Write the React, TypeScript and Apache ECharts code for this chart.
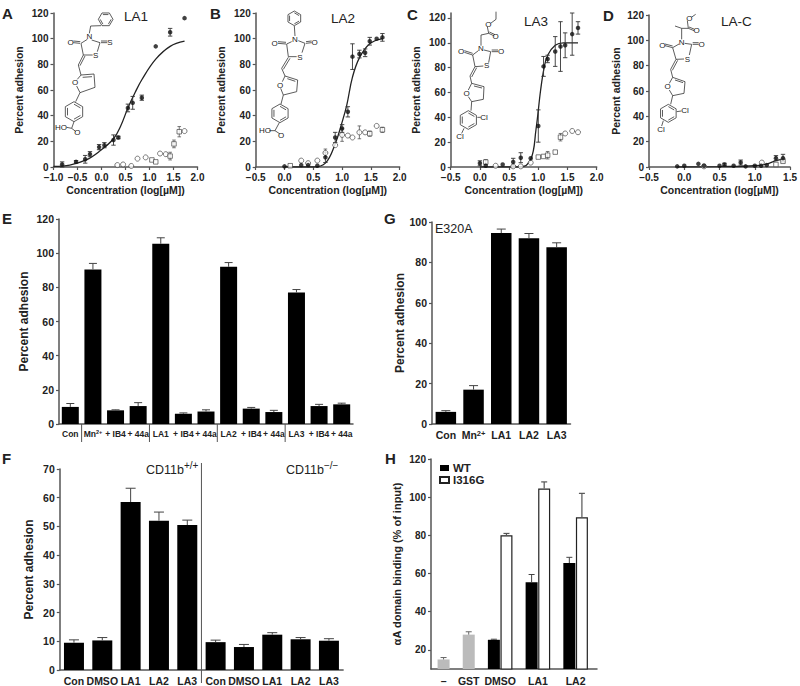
import React, { useEffect, useRef } from "react";
import * as echarts from "echarts";

// ---------- data: [x, y, error] ----------
const aFilled = [[-0.82,2,2],[-0.53,4,1],[-0.34,6,3],[-0.24,10,2],[-0.05,15.5,2],[0.06,17,2],[0.25,21,4],[0.35,23,1],[0.55,46,3],[0.65,50,5],[0.84,54,2],[1.13,94,0],[1.43,105,3],[1.73,116,0]];
const aOpenC = [[0.33,1.5,0],[0.45,2,0],[0.62,0.8,0],[0.75,6.5,0],[0.92,7.5,0],[1.22,10.5,0],[1.34,10,0],[1.73,28,0]];
const aOpenS = [[1.05,5.5,0],[1.13,4,0],[1.43,8.5,3],[1.51,18,3],[1.62,27.5,4]];
const aCurve = [[-1,0.5],[-0.66,1.5],[-0.32,5.5],[-0.05,12],[0.25,22],[0.4,32],[0.55,46],[0.7,58],[0.84,68],[1.13,84],[1.43,94],[1.73,98]];

const bFilled = [[0,0.5,0],[0.29,1.5,0],[0.41,1.5,0],[0.57,1,0],[0.71,7.5,4],[0.88,23,4],[1,30,3],[1.1,43,4],[1.18,86,10],[1.3,88,3],[1.4,89,3],[1.48,98,3],[1.6,100,0],[1.7,101,3]];
const bOpenC = [[0.29,5,0],[0.41,3,0],[0.57,5,0],[0.71,11,3],[0.88,17,0],[1,25,5],[1.1,24.5,0],[1.18,23,0],[1.3,27,5],[1.4,27,0],[1.6,32,0]];
const bOpenS = [[0.1,1,0],[1.48,26,2],[1.7,29,2]];
const bCurve = [[0,0],[0.5,0],[0.71,3],[0.88,18],[1,35],[1.08,48],[1.18,70],[1.3,85],[1.48,96],[1.7,100]];

const cFilled = [[0,3,2],[0.1,1,0],[0.39,2,0],[0.57,4,3],[0.7,7.5,4],[0.87,7,0],[1,33,13],[1.09,81,8],[1.16,87,3],[1.29,93,12],[1.38,97,20],[1.46,98,10],[1.58,107,17],[1.68,112,5]];
const cOpenC = [[0.27,1,0],[0.57,0.5,0],[0.7,0.5,0],[0.87,3.5,0],[1.46,27,0],[1.58,29,0],[1.68,28,0]];
const cOpenS = [[0.1,4,2],[1,8,0],[1.09,8.5,0],[1.16,9.5,3],[1.29,12,0],[1.38,24,3]];
const cCurve = [[0,0],[0.69,0],[0.87,6],[0.96,30],[1.04,62],[1.1,80],[1.16,90],[1.29,98],[1.43,100],[1.68,100]];

const dFilled = [[-0.1,0.5,0],[0,1,0],[0.2,2.5,0],[0.28,1,0],[0.5,1,0],[0.57,2,1],[0.7,1,0],[0.8,3.5,2],[0.87,0.5,0],[1,1,0],[1.09,1,0],[1.17,1.5,0],[1.3,7,2],[1.4,7,3]];
const dOpenC = [[0.28,0.5,0],[1.1,3.5,0]];
const dOpenS = [[1.3,2,0],[1.4,4.5,0]];
const dCurve = [[-0.1,0],[0.5,0.3],[1,1],[1.18,2.5],[1.3,5],[1.4,6]];

const eCats = ["Con","Mn2+","+ IB4","+ 44a","LA1","+ IB4","+ 44a","LA2","+ IB4","+ 44a","LA3","+ IB4","+ 44a"];
const eVals = [10,90.5,8,10.5,105.5,6,7.3,92,9,7,77,10.5,11.5];
const eErrs = [2,3.5,0.3,2,3.5,0.5,1,2.5,0.7,1,1.7,1,0.7];

const gCats = ["Con","Mn2+","LA1","LA2","LA3"];
const gVals = [6,17,94.5,92,87.5];
const gErrs = [0.6,2,2,2.3,2.2];

const fCats = ["Con","DMSO","LA1","LA2","LA3","Con","DMSO","LA1","LA2","LA3"];
const fVals = [9.5,10.3,58.5,52,50.5,9.7,8,12.3,10.7,10.2];
const fErrs = [1,1,4.8,3,1.7,0.7,0.9,0.7,0.6,0.7];

const hLabels = ["–","GST","DMSO","LA1","LA2"];
const hLabelSlots = [1,3,5.5,8.5,11.5];
const hGrey = [[1,15,1],[3,28,1.5]];
const hWT = [[5,25.3,0.3],[8,55.5,4],[11,65.5,3]];
const hMut = [[6,80,1],[9,104.5,3.5],[12,89.5,12.5]];

const FONT = '"Liberation Sans", Arial, sans-serif';
const DARK = "#222";
const AXIS = "#555";

const grids = [
  { left: 53.5, top: 13, width: 144, height: 154 },
  { left: 255.7, top: 13, width: 144, height: 154 },
  { left: 450.7, top: 13, width: 146, height: 154 },
  { left: 649, top: 15, width: 146, height: 152 },
  { left: 59, top: 219, width: 294, height: 205 },
  { left: 432, top: 222, width: 138.5, height: 202 },
  { left: 59.8, top: 469, width: 283.3, height: 202 },
  { left: 431, top: 459, width: 166, height: 212 },
];

const axisCommon = {
  axisLine: { show: true, onZero: false, lineStyle: { color: AXIS, width: 1.5 } },
  splitLine: { show: false },
};
const tickLabel = { color: DARK, fontFamily: FONT, fontWeight: "bold" as const };

function yAxis(i: number, max: number, interval: number, name: string, gap: number, extra: any = {}) {
  return {
    type: "value", gridIndex: i, min: extra.min ?? 0, max, interval, name, nameLocation: "middle", nameGap: gap,
    nameTextStyle: { color: DARK, fontFamily: FONT, fontWeight: "bold", fontSize: extra.nameSize ?? 10.5 },
    ...axisCommon,
    axisTick: { show: true, length: 3, lineStyle: { color: AXIS, width: 1.2 }, ...(extra.ticks ? { customValues: extra.ticks } : {}) },
    axisLabel: { ...tickLabel, fontSize: extra.size ?? 10, margin: 5, ...(extra.ticks ? { customValues: extra.ticks } : {}) },
  };
}
function concAxis(i: number, min: number, max: number) {
  return {
    type: "value", gridIndex: i, min, max, interval: 0.5, name: "Concentration (log[µM])", nameLocation: "middle", nameGap: 17,
    nameTextStyle: { color: DARK, fontFamily: FONT, fontWeight: "bold", fontSize: 10.5 },
    ...axisCommon,
    axisTick: { show: true, length: 3, lineStyle: { color: AXIS, width: 1.2 } },
    axisLabel: { ...tickLabel, fontSize: 10, margin: 5, formatter: (v: number) => (v < 0 ? "−" : "") + Math.abs(v).toFixed(1) },
  };
}
const catFmt = (v: string) => (v === "Mn2+" ? "{b|Mn}{s|2+}" : v);
function catAxis(i: number, data: string[], size: number) {
  return {
    type: "category", gridIndex: i, data, ...axisCommon,
    axisTick: { show: false },
    axisLabel: {
      ...tickLabel, fontSize: size, margin: 5, interval: 0, formatter: catFmt,
      rich: {
        b: { ...tickLabel, fontSize: size, verticalAlign: "bottom" },
        s: { ...tickLabel, fontSize: size - 3, verticalAlign: "top", padding: [0, 0, 3, 0] },
      },
    },
  };
}

function errSeries(i: number, rows: number[][], cap: number, both: boolean, color = "#333", width = 1) {
  return {
    type: "custom", xAxisIndex: i, yAxisIndex: i, data: rows.filter((r) => r[2] > 0), encode: { x: 0, y: 1 }, z: 3, clip: false, silent: true,
    renderItem: (_p: any, api: any) => {
      const x = api.value(0), y = api.value(1), e = api.value(2);
      const hi = api.coord([x, y + e]);
      const lo = api.coord([x, both ? y - e : y]);
      const st = { stroke: color, lineWidth: width, fill: "none" };
      const ln = (a: number[], b: number[]) => ({ type: "line", shape: { x1: a[0], y1: a[1], x2: b[0], y2: b[1] }, style: st });
      const kids = [ln(hi, lo), ln([hi[0] - cap, hi[1]], [hi[0] + cap, hi[1]])];
      if (both) kids.push(ln([lo[0] - cap, lo[1]], [lo[0] + cap, lo[1]]));
      return { type: "group", children: kids };
    },
  };
}
function doseSeries(i: number, filled: number[][], openC: number[][], openS: number[][], curve: number[][]) {
  const scatter = (rows: number[][], symbol: string, size: number, fill: string, z: number) => ({
    type: "scatter", xAxisIndex: i, yAxisIndex: i, data: rows.map((r) => [r[0], r[1]]), symbol, symbolSize: size, z, clip: false,
    itemStyle: { color: fill, borderColor: "#333", borderWidth: fill === "#fff" ? 0.8 : 0 },
  });
  return [
    { type: "line", xAxisIndex: i, yAxisIndex: i, data: curve, smooth: 0.4, showSymbol: false, z: 2, lineStyle: { color: "#222", width: 1.3 } },
    errSeries(i, openS.concat(openC), 1.8, true, "#555", 0.8),
    errSeries(i, filled, 2.2, true, "#333", 0.9),
    scatter(openC, "circle", 5, "#fff", 4),
    scatter(openS, "rect", 4.5, "#fff", 4),
    scatter(filled, "circle", 4.5, "#111", 5),
  ];
}
function barSeries(i: number, vals: number[], errs: number[], width: number, cap: number) {
  return [
    { type: "bar", xAxisIndex: i, yAxisIndex: i, data: vals, barWidth: width, itemStyle: { color: "#000" } },
    errSeries(i, vals.map((v, k) => [k, v, errs[k]]), cap, false, "#444", 1),
  ];
}
function hBar(name: string, rows: number[][], color: string, border: number) {
  return {
    type: "bar", name, xAxisIndex: 7, yAxisIndex: 7, data: rows.map((r) => [r[0], r[1]]), barWidth: 12, barGap: "-100%",
    itemStyle: { color, borderColor: "#222", borderWidth: border },
  };
}

// ---------- annotation helpers ----------
const TINK = "#333";
function label(text: string, x: number, y: number, size: number, bold = false, align = "left") {
  return { type: "text", z: 20, style: { text, x, y, fill: "#222", font: `${bold ? "bold " : ""}${size}px ${FONT}`, align, verticalAlign: "middle" } };
}
function mol(ox: number, oy: number, lines: number[][][], hexes: number[][], atoms: any[][]) {
  const P = (p: number[]) => [ox + p[0] / 3, oy + p[1] / 3];
  const out: any[] = [];
  const poly = (pts: number[][]) => ({ type: "polyline", z: 10, shape: { points: pts }, style: { stroke: TINK, lineWidth: 0.8, fill: "none" } });
  lines.forEach((l) => out.push(poly(l.map(P))));
  hexes.forEach(([cx, cy, r, a0]) => {
    const v = [0, 1, 2, 3, 4, 5, 6].map((k) => {
      const t = (a0 + k * 60) * Math.PI / 180;
      return [cx + r * Math.cos(t), cy + r * Math.sin(t)];
    });
    out.push(poly(v.map(P)));
    [0, 2, 4].forEach((k) => {
      const a = v[k], b = v[k + 1], s = 0.75;
      const q = (p: number[]) => [cx + (p[0] - cx) * s, cy + (p[1] - cy) * s];
      out.push(poly([P(q(a)), P(q(b))]));
    });
  });
  atoms.forEach(([t, x, y]) => {
    out.push({ type: "text", z: 11, style: { text: t, x: ox + (x as number) / 3, y: oy + (y as number) / 3, fill: "#222", font: `8px ${FONT}`, align: "center", verticalAlign: "middle" } });
  });
  return out;
}

const molA = mol(0, 0,
  [[[303,77],[272,78],[268,100]],[[262,118],[243,130],[250,165],[278,165]],[[275,120],[300,128],[292,155]],[[240,130],[220,128]],[[241,125],[220,123]],[[303,128],[322,128]],[[303,123],[322,123]],[[250,165],[235,195]],[[255,168],[240,197]],[[235,195],[243,225]],[[232,238],[243,225],[282,222],[285,262],[240,278],[230,258]],[[248,232],[276,230]],[[240,278],[227,305]],[[222,365],[215,385],[200,382]],[[215,385],[228,395]]],
  [[317,58,22,0],[222,335,30,-90]],
  [["N",268,109],["O",212,127],["S",330,126],["S",287,166],["O",225,248],["HO",183,382],["O",232,398]]);
const molB = mol(200, 0,
  [[[283,78],[285,108]],[[275,125],[260,132],[265,170],[290,170]],[[295,122],[315,130],[306,158]],[[258,132],[234,130]],[[258,127],[234,125]],[[318,130],[335,128]],[[318,125],[335,123]],[[265,172],[245,205]],[[270,175],[250,208]],[[245,205],[255,228]],[[247,245],[255,228],[293,240],[290,275],[250,285],[242,265]],[[262,236],[286,244]],[[250,285],[243,312]],[[238,368],[225,392],[208,392]],[[225,392],[240,402]]],
  [[283,55,22,-90],[240,340,28,-90]],
  [["N",285,118],["O",224,130],["O",344,127],["S",300,171],["O",240,255],["HO",195,392],["O",243,405]]);
const molC = mol(400, 0,
  [[[288,35],[288,58],[272,70]],[[262,80],[266,100],[243,105],[243,137]],[[266,100],[283,108]],[[268,96],[285,104]],[[235,152],[218,165],[225,200],[250,198]],[[252,150],[272,155],[266,188]],[[218,165],[193,157]],[[218,160],[193,152]],[[275,155],[294,155]],[[275,150],[294,150]],[[225,200],[210,228]],[[230,203],[215,231]],[[210,228],[215,250]],[[205,270],[215,250],[252,260],[250,298],[215,305],[205,290]],[[222,258],[246,264]],[[215,305],[213,332]],[[232,352],[242,352]],[[192,385],[185,400]]],
  [[205,360,28,-90]],
  [["N",243,146],["O",183,155],["O",303,155],["S",260,197],["O",200,280],["O",265,73],["O",287,110],["Cl",252,352],["Cl",180,408]]);
const molD = mol(600, 0,
  [[[287,43],[274,52]],[[262,62],[265,85],[245,85],[225,78]],[[265,85],[282,92]],[[267,81],[284,88]],[[245,85],[245,118]],[[237,132],[218,143],[228,178],[252,177]],[[254,130],[275,133],[268,165]],[[218,143],[195,137]],[[218,138],[195,132]],[[278,133],[296,133]],[[278,128],[296,128]],[[228,178],[212,208]],[[233,181],[217,211]],[[212,208],[218,232]],[[208,250],[218,232],[255,245],[252,280],[218,287],[208,270]],[[225,240],[249,248]],[[218,287],[212,313]],[[230,335],[244,333]],[[190,362],[185,378]]],
  [[205,340,27,-90]],
  [["N",245,126],["O",187,137],["O",305,133],["S",262,177],["O",203,260],["O",268,55],["O",290,92],["Cl",255,332],["Cl",183,388]]);

const eLeft = grids[4].left, eStep = grids[4].width / eCats.length, eBase = grids[4].top + grids[4].height;
const eDividers = [1, 4, 7, 10].map((k) => ({
  type: "line", z: 10, shape: { x1: eLeft + k * eStep, y1: eBase, x2: eLeft + k * eStep, y2: eBase + 18 }, style: { stroke: AXIS, lineWidth: 1 },
}));
const fMid = grids[6].left + 5 * (grids[6].width / fCats.length);

function supLabel(main: string, sup: string, x: number, y: number) {
  return {
    type: "text", z: 20,
    style: {
      text: `{m|${main}}{s|${sup}}`, x, y, align: "left", verticalAlign: "middle", fill: "#222",
      rich: { m: { font: `12.5px ${FONT}`, fill: "#222", verticalAlign: "bottom" }, s: { font: `10px ${FONT}`, fill: "#222", verticalAlign: "top", padding: [0, 0, 6, 0] } },
    },
  };
}

const option: any = {
  animation: false,
  backgroundColor: "#fff",
  textStyle: { fontFamily: FONT },
  grid: grids.map((g) => ({ ...g, containLabel: false })),
  legend: {
    left: 439, top: 462, orient: "vertical", data: ["WT", "I316G"], icon: "rect", itemWidth: 9, itemHeight: 6, itemGap: 0, padding: 0,
    textStyle: { color: DARK, fontFamily: FONT, fontWeight: "bold", fontSize: 11.5, padding: [0, 0, 0, -1] },
  },
  xAxis: [
    concAxis(0, -1, 2), concAxis(1, -0.5, 2), concAxis(2, -0.5, 2), concAxis(3, -0.5, 1.5),
    catAxis(4, eCats, 8.5), catAxis(5, gCats, 10.5), catAxis(6, fCats, 10.5),
    {
      type: "value", gridIndex: 7, min: 0, max: 13.2, ...axisCommon, axisTick: { show: false },
      axisLabel: { ...tickLabel, fontSize: 10.5, margin: 6, customValues: hLabelSlots, formatter: (v: number) => hLabels[hLabelSlots.indexOf(v)] ?? "" },
    },
  ],
  yAxis: [
    yAxis(0, 120, 20, "Percent adhesion", 29),
    yAxis(1, 120, 20, "Percent adhesion", 29),
    yAxis(2, 124, 20, "Percent adhesion", 29, { ticks: [0, 20, 40, 60, 80, 100, 120] }),
    yAxis(3, 120, 20, "Percent adhesion", 28),
    yAxis(4, 120, 20, "Percent adhesion", 29, { size: 10.5, nameSize: 12 }),
    yAxis(5, 100, 20, "Percent adhesion", 22, { size: 10.5, nameSize: 12 }),
    yAxis(6, 70, 10, "Percent adhesion", 25, { size: 10.5, nameSize: 12 }),
    yAxis(7, 120, 20, "αA domain binding (% of input)", 29, { min: 10, size: 10, nameSize: 11, ticks: [20, 40, 60, 80, 100, 120] }),
  ],
  series: [
    ...doseSeries(0, aFilled, aOpenC, aOpenS, aCurve),
    ...doseSeries(1, bFilled, bOpenC, bOpenS, bCurve),
    ...doseSeries(2, cFilled, cOpenC, cOpenS, cCurve),
    ...doseSeries(3, dFilled, dOpenC, dOpenS, dCurve),
    ...barSeries(4, eVals, eErrs, 17, 4),
    ...barSeries(5, gVals, gErrs, 20.5, 4.5),
    ...barSeries(6, fVals, fErrs, 20, 5),
    hBar("control", hGrey, "#bbb", 0),
    hBar("WT", hWT, "#000", 0),
    hBar("I316G", hMut, "#fff", 1.2),
    errSeries(7, hGrey, 3, false, "#666", 1),
    errSeries(7, hWT, 3, false, "#444", 1),
    errSeries(7, hMut, 3, false, "#555", 1.2),
  ],
  graphic: [
    ...molA, ...molB, ...molC, ...molD,
    label("A", 2, 13, 15, true), label("B", 210, 13, 15, true), label("C", 407, 14, 15, true), label("D", 603, 15, 15, true),
    label("E", 2, 218, 15, true), label("G", 384, 218, 15, true), label("F", 2, 458, 15, true), label("H", 385, 458, 15, true),
    label("LA1", 124, 16, 13.5), label("LA2", 331, 18, 13.5), label("LA3", 524, 21, 13.5), label("LA-C", 721, 21, 13.5),
    label("E320A", 435, 229, 12.5),
    supLabel("CD11b", "+/+", 146, 468), supLabel("CD11b", "−/−", 286, 468),
    ...eDividers,
    { type: "line", z: 10, shape: { x1: fMid, y1: 463, x2: fMid, y2: 683 }, style: { stroke: AXIS, lineWidth: 1 } },
  ],
};

export default function App() {
  const ref = useRef<HTMLDivElement>(null);
  useEffect(() => {
    const chart = echarts.init(ref.current!, undefined, { renderer: "svg" });
    chart.setOption(option);
    return () => chart.dispose();
  }, []);
  return <div ref={ref} style={{ position: "fixed", left: 0, top: 0, width: 800, height: 686 }} />;
}
